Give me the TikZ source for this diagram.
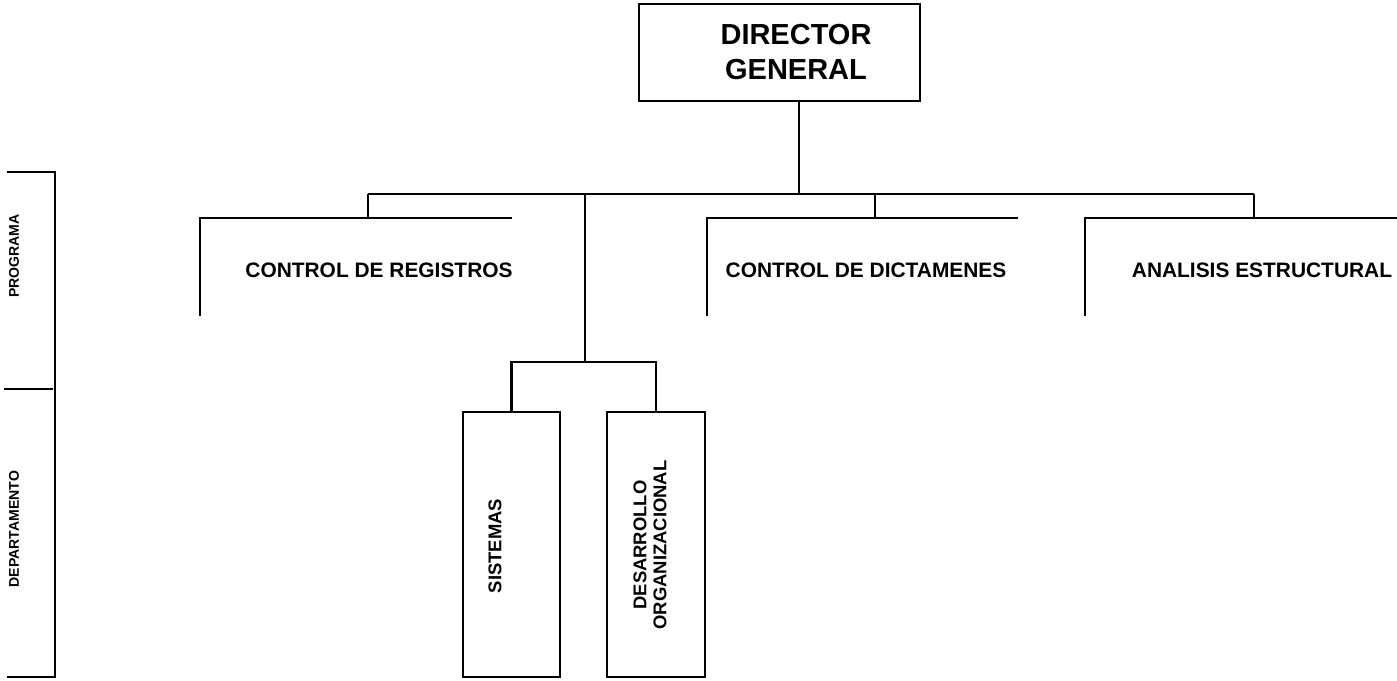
\documentclass[tikz,border=0pt]{standalone}
\usepackage{fontspec}
\setmainfont{Liberation Sans}
\begin{document}
\begin{tikzpicture}[x=0.02cm,y=-0.02cm,
	linea/.style={line width=1.3pt},
	caja/.style={draw,line width=0.9pt,inner sep=0pt},
	texto/.style={font=\bfseries\fontsize{11.9}{14}\selectfont},
	lado/.style={font=\bfseries\fontsize{8}{9}\selectfont,rotate=90}]
			\useasboundingbox(0,0) rectangle (1397,680);
			\node[caja,minimum width=5.62cm,minimum height=1.94cm](dir) at(779.5,52.5){};
			\node[align=center,font=\bfseries\fontsize{16.5}{20}\selectfont](dirt) at(796,52){DIRECTOR\\GENERAL};
			\coordinate(bus) at(799,194);
			\draw[linea](bus |- dir.south)--(bus);
			\draw[linea](368,194)--(1254,194);
			% programas
			\draw[linea](368,194)--(368,218);
			\draw[linea](200,316)--(200,218)--(512,218);
			\node[texto](reg) at(379,270){CONTROL DE REGISTROS};
			\draw[linea](875,194)--(875,218);
			\draw[linea](707,316)--(707,218)--(1018,218);
			\node[texto](dic) at(866,270){CONTROL DE DICTAMENES};
			\draw[linea](1254,194)--(1254,218);
			\draw[linea](1085,316)--(1085,218)--(1397,218);
			\node[texto](ana) at(1262,270){ANALISIS ESTRUCTURAL};
			% departamentos
			\node[caja,minimum width=1.94cm,minimum height=5.3cm](sis) at(511.5,544.5){};
			\node[lado,font=\bfseries\fontsize{10.5}{12}\selectfont](sist) at(495,546){SISTEMAS};
			\node[caja,minimum width=1.96cm,minimum height=5.3cm](des) at(656,544.5){};
			\node[lado,align=center,font=\bfseries\fontsize{10.5}{11.5}\selectfont](dest) at(650,545){DESARROLLO\\ORGANIZACIONAL};
			\coordinate(dep) at(585,362);
			\draw[linea](585,194)--(dep);
			\draw[linea](sis.north)--(sis.north |- dep)--(des.north |- dep)--(des.north);
			% niveles
			\draw[line width=1.6pt](7,172)--(55,172)--(55,677)--(7,677);
			\draw[line width=1.6pt](4,389)--(53,389);
			\node[lado](prog) at(14,256){PROGRAMA};
			\node[lado](depa) at(14,529){DEPARTAMENTO};
\end{tikzpicture}
\end{document}
